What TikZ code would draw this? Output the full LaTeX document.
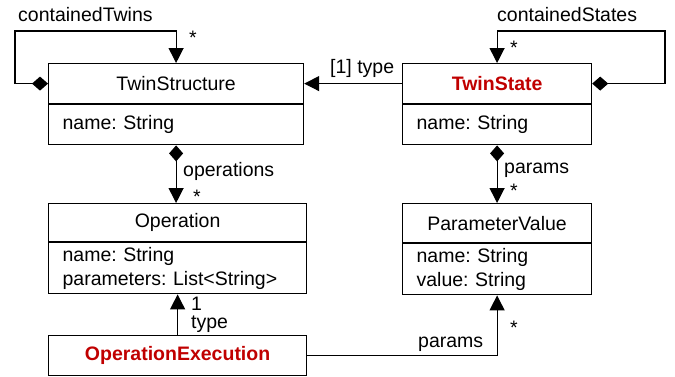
\documentclass[tikz,border=0pt]{standalone}
\usepackage{fontspec}
\setmainfont{Liberation Sans}
\usetikzlibrary{arrows.meta,positioning}
\definecolor{classred}{RGB}{192,0,0}
\frenchspacing
\begin{document}
\begin{tikzpicture}[x=1pt,y=-1pt,font=\fontsize{19.5}{24}\selectfont,
		head/.style={draw,line width=1.2pt,minimum height=40pt,inner sep=0pt,anchor=north west},
		attr/.style={draw,line width=1.2pt,inner xsep=14pt,inner ysep=0pt,align=left,anchor=north west},
		lbl/.style={inner sep=0pt,anchor=base west},
		comp/.style={line width=1.2pt,{Diamond[length=16pt,width=14pt]}-{Triangle[length=15pt,width=15pt]}},
		assoc/.style={line width=1.2pt,-{Triangle[length=15pt,width=15pt]}}]
				\useasboundingbox (0,0) rectangle (675,376);
				\node[head,minimum width=255pt] (ts) at (48,63) {TwinStructure};
				\node[attr,text width=227pt,minimum height=40pt,below right=0pt of ts.south west] (tsa) {name: String};
				\node[head,minimum width=189pt,text=classred,font=\fontsize{19.5}{24}\selectfont\bfseries] (st) at (402,63) {TwinState};
				\node[attr,text width=161pt,minimum height=40pt,below right=0pt of st.south west] (sta) {name: String};
				\node[head,minimum width=258pt,minimum height=38pt] (op) at (48,203) {Operation};
				\node[attr,text width=230pt,minimum height=51pt,below right=0pt of op.south west] (opa) {name: String\\parameters: List<String>};
				\node[head,minimum width=189pt,minimum height=39pt] (pv) at (402,203) {ParameterValue};
				\node[attr,text width=161pt,minimum height=51pt,below right=0pt of pv.south west] (pva) {name: String\\value: String};
				\node[head,minimum width=258pt,text=classred,font=\fontsize{19.5}{24}\selectfont\bfseries] (oe) at (48,335) {OperationExecution};
				\coordinate (tsloop) at (15,31);
				\coordinate (stloop) at (665,31);
				\draw[comp] (ts.west) -| (tsloop) -| (ts.north);
				\draw[comp] (st.east) -| (stloop) -| (st.north);
				\draw[assoc] (st.west) -- (ts.east);
				\draw[comp] (tsa.south) -- (tsa.south |- op.north);
				\draw[comp] (sta.south) -- (sta.south |- pv.north);
				\draw[assoc] (oe.north) -- (oe.north |- opa.south);
				\draw[assoc] (oe.east) -| (pva.south);
				\node[lbl] (l1) at (18,21) {containedTwins};
				\node[lbl] (l2) at (189,44) {*};
				\node[lbl] (l3) at (497,21) {containedStates};
				\node[lbl] (l4) at (510,54) {*};
				\node[lbl] (l5) at (330,73) {[1] type};
				\node[lbl] (l6) at (183,176) {operations};
				\node[lbl] (l7) at (193,203) {*};
				\node[lbl] (l8) at (504,173) {params};
				\node[lbl] (l9) at (510,197) {*};
				\node[lbl] (l10) at (191,310) {1};
				\node[lbl] (l11) at (191,328) {type};
				\node[lbl] (l12) at (418,347) {params};
				\node[lbl] (l13) at (510,334) {*};
			\end{tikzpicture}
\end{document}
